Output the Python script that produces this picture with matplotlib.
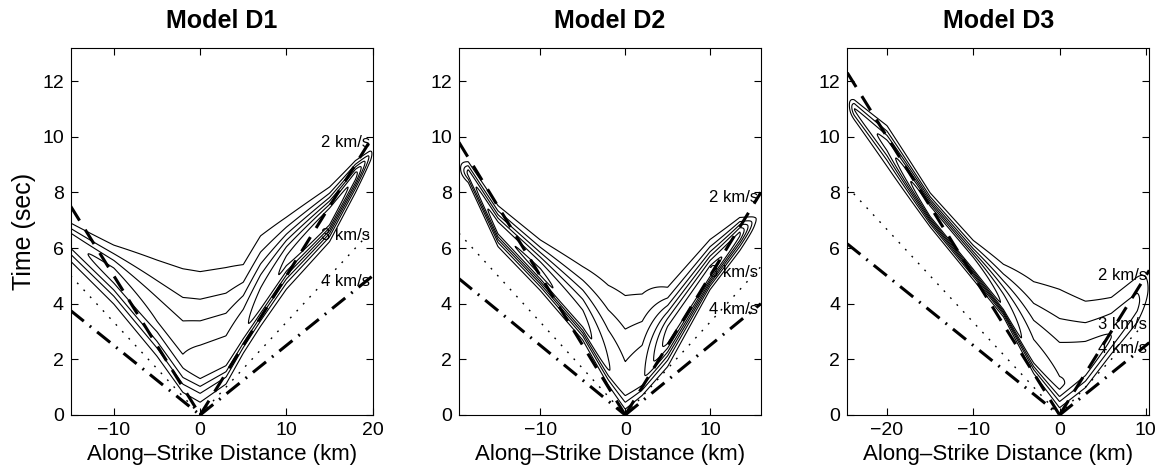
import numpy as np
import matplotlib.pyplot as plt

plt.rcParams['font.family'] = ['Liberation Sans', 'DejaVu Sans']

titles = ['Model D1', 'Model D2', 'Model D3']
x_limits = [(-15, 20), (-19.6, 16), (-24.6, 10.4)]
x_ticks = [[-10, 0, 10, 20], [-10, 0, 10], [-20, -10, 0, 10]]
y_ticks = [0, 2, 4, 6, 8, 10, 12]
speeds = [2, 3, 4]
speed_labels = ['2 km/s', '3 km/s', '4 km/s']
contour_levels = [0.12, 0.26, 0.40, 0.54, 0.68, 0.82]

# slip-rate ridge: knot position (km), peak time (s),
# amplitude, rise width and decay width (s)
d1_x = [-15, -10, -5, -2, 0, 3, 5, 7, 10, 15, 18, 19.6, 20.2]
d1_peak = [6.3, 5.0, 3.1, 1.8, 1.6, 2.0, 3.0, 4.0, 5.5, 7.1, 8.6, 9.3, 9.5]
d1_amp = [0.5, 0.6, 0.55, 0.55, 0.6, 0.6, 0.65, 0.75, 0.85, 1.0, 0.75, 0.25, 0.0]
d1_rise = [0.65, 0.8, 0.8, 0.8, 0.9, 0.7, 0.6, 0.6, 0.7, 0.6, 0.45, 0.3, 0.3]
d1_decay = [0.5, 0.87, 2.0, 2.8, 2.8, 2.6, 1.85, 1.8, 1.15, 0.75, 0.4, 0.2, 0.2]

d2_x = [-19.6, -18.5, -15, -10, -5, -2, 0, 2, 5, 10, 13.5, 15.3, 16]
d2_peak = [8.9, 8.7, 6.7, 5.1, 3.3, 1.7, 0.9, 1.3, 2.8, 5.1, 6.5, 7.0, 7.2]
d2_amp = [0.05, 0.45, 0.8, 0.85, 0.75, 0.55, 0.45, 0.5, 0.9, 0.9, 0.7, 0.15, 0.0]
d2_rise = [0.3, 0.3, 0.47, 0.45, 0.45, 0.5, 0.6, 0.5, 0.75, 0.42, 0.45, 0.3, 0.3]
d2_decay = [0.3, 0.35, 0.6, 0.85, 1.5, 2.4, 2.95, 2.55, 1.26, 0.85, 0.45, 0.2, 0.2]

d3_x = [-24.6, -23.8, -20, -15, -10, -6.5, -3, 0, 3, 6, 9, 10.4]
d3_peak = [11.2, 11.0, 9.7, 7.3, 5.4, 3.9, 2.0, 1.0, 1.7, 2.8, 4.0, 4.6]
d3_amp = [0.0, 0.4, 0.6, 1.0, 1.0, 0.8, 0.6, 0.55, 0.5, 0.4, 0.3, 0.1]
d3_rise = [0.35, 0.35, 0.6, 0.37, 0.37, 0.27, 0.4, 0.6, 0.6, 0.55, 0.7, 0.7]
d3_decay = [0.3, 0.3, 0.55, 0.47, 0.6, 1.1, 2.2, 2.85, 2.0, 1.3, 1.0, 1.0]

models = [
    (d1_x, d1_peak, d1_amp, d1_rise, d1_decay),
    (d2_x, d2_peak, d2_amp, d2_rise, d2_decay),
    (d3_x, d3_peak, d3_amp, d3_rise, d3_decay),
]


def slip_rate(x, t, xk, pk, ak, rk, dk):
    X, T = np.meshgrid(x, t)
    p = np.interp(X, xk, pk)
    a = np.interp(X, xk, ak)
    w = np.where(T < p, np.interp(X, xk, rk), np.interp(X, xk, dk))
    return a * np.exp(-((T - p) / w) ** 2)


line_styles = [
    dict(color='k', lw=2.2, linestyle=(0, (5.5, 3.5))),
    dict(color='k', lw=1.0, linestyle=(0, (1.3, 5.5))),
    dict(color='k', lw=2.2, linestyle=(0, (5.5, 2.5, 0.6, 2.5))),
]

fig = plt.figure(figsize=(11.61, 4.76), dpi=100)
lefts = [0.0609, 0.3953, 0.7298]

for i in range(3):
    ax = fig.add_axes([lefts[i], 0.1282, 0.2601, 0.7716])
    x0, x1 = x_limits[i]
    x = np.linspace(x0, x1, 500)
    t = np.linspace(0, 13.2, 500)
    z = slip_rate(x, t, *models[i])
    ax.contour(x, t, z, levels=contour_levels, colors='k', linewidths=0.8)

    for v, st, lab in zip(speeds, line_styles, speed_labels):
        ax.plot([x0, 0], [-x0 / v, 0], **st)
        ax.plot([0, x1], [0, x1 / v], **st)
        ax.text(x1 - 0.3, x1 / v - 0.2, lab, ha='right', va='center',
                fontsize=12)

    ax.set_xlim(x0, x1)
    ax.set_ylim(0, 13.2)
    ax.set_xticks(x_ticks[i])
    ax.set_yticks(y_ticks)
    ax.tick_params(direction='in', top=True, right=True, length=5,
                   labelsize=14, pad=5)
    ax.set_xlabel('Along\u2013Strike Distance (km)', fontsize=16, labelpad=4)
    ax.set_title(titles[i], fontsize=18, fontweight='bold', pad=14)
    if i == 0:
        ax.set_ylabel('Time (sec)', fontsize=18, labelpad=4)

fig.savefig('out.png', dpi=100)
